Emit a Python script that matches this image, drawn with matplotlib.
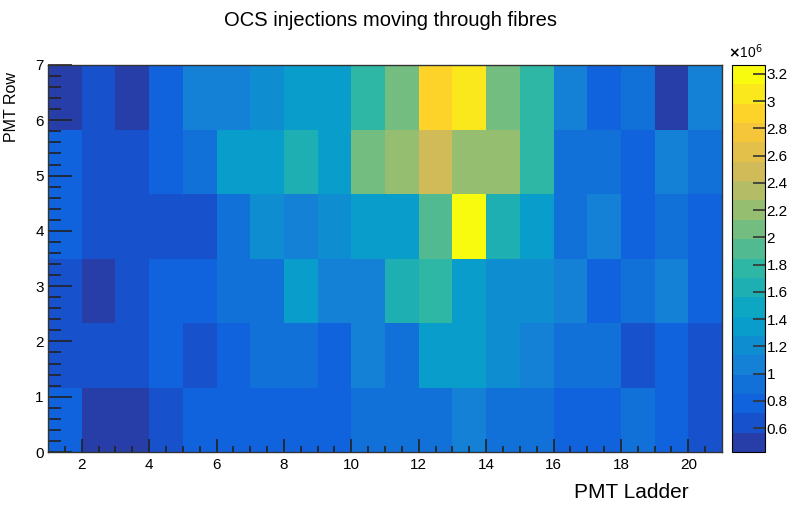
import matplotlib
matplotlib.use('Agg')
import matplotlib.pyplot as plt
import matplotlib.colors as mcolors
import numpy as np

plt.rcParams['font.family'] = ['Liberation Sans', 'DejaVu Sans']

# PMT ladders 1..20 (bin edges 1..21), 6 row bins spanning 0..7
LADDER_EDGES = np.arange(1, 22)
ROW_EDGES = np.linspace(0, 7, 7)

# injections (x1e6), one list per row bin, bottom row first
ROW1 = [0.80, 0.50, 0.50, 0.65, 0.80, 0.80, 0.80, 0.80, 0.80, 0.90,
        0.90, 0.90, 1.05, 0.90, 0.90, 0.80, 0.80, 0.95, 0.80, 0.65]
ROW2 = [0.65, 0.65, 0.65, 0.80, 0.65, 0.80, 0.90, 0.90, 0.80, 1.05,
        0.90, 1.30, 1.30, 1.20, 1.10, 0.95, 0.95, 0.65, 0.80, 0.65]
ROW3 = [0.65, 0.50, 0.65, 0.80, 0.80, 0.90, 0.90, 1.30, 1.05, 1.05,
        1.65, 1.75, 1.35, 1.25, 1.15, 1.05, 0.80, 0.90, 1.05, 0.80]
ROW4 = [0.80, 0.65, 0.65, 0.65, 0.65, 0.90, 1.20, 1.00, 1.15, 1.35,
        1.35, 1.90, 3.20, 1.60, 1.40, 0.90, 1.05, 0.80, 0.90, 0.80]
ROW5 = [0.80, 0.65, 0.65, 0.85, 0.95, 1.40, 1.40, 1.65, 1.40, 2.10,
        2.25, 2.50, 2.20, 2.20, 1.75, 0.90, 0.90, 0.80, 1.05, 0.90]
ROW6 = [0.50, 0.70, 0.50, 0.75, 1.00, 1.00, 1.20, 1.40, 1.40, 1.75,
        2.05, 2.90, 3.05, 2.05, 1.80, 1.05, 0.80, 0.95, 0.50, 1.05]

Z_MIN = 0.424e6
Z_MAX = 3.266e6
N_CONTOURS = 20
CBAR_TICKS = [0.6, 0.8, 1.0, 1.2, 1.4, 1.6, 1.8, 2.0, 2.2, 2.4, 2.6, 2.8, 3.0, 3.2]

# ROOT kBird palette, picked per contour the way THistPainter does
stops = [0.0, 0.125, 0.25, 0.375, 0.5, 0.625, 0.75, 0.875, 1.0]
red = [0.2082, 0.0592, 0.0780, 0.0232, 0.1802, 0.5301, 0.8186, 0.9956, 0.9764]
green = [0.1664, 0.3599, 0.5041, 0.6419, 0.7178, 0.7492, 0.7328, 0.7862, 0.9832]
blue = [0.5293, 0.8684, 0.8385, 0.7914, 0.6425, 0.4662, 0.3499, 0.1968, 0.0539]
bird = mcolors.LinearSegmentedColormap.from_list(
    'bird', list(zip(stops, zip(red, green, blue))), N=255)
idx = [int((i + 0.99) * 255 / N_CONTOURS) for i in range(N_CONTOURS)]
cmap = mcolors.ListedColormap([bird(min(k, 254)) for k in idx])
levels = np.linspace(Z_MIN, Z_MAX, N_CONTOURS + 1)
norm = mcolors.BoundaryNorm(levels, cmap.N)

z = np.array([ROW1, ROW2, ROW3, ROW4, ROW5, ROW6]) * 1e6

fig = plt.figure(figsize=(7.94, 5.05), dpi=100)
W, H = 794, 505
ax = fig.add_axes([48 / W, 1 - 452 / H, (722 - 48) / W, (452 - 65) / H])
mesh = ax.pcolormesh(LADDER_EDGES, ROW_EDGES, z, cmap=cmap, norm=norm)
ax.set_xlim(1, 21)
ax.set_ylim(0, 7)

ax.set_xticks(range(2, 21, 2))
ax.set_xticks(np.arange(1.5, 21, 0.5), minor=True)
ax.set_yticks(range(0, 8))
ax.set_yticks(np.arange(0, 7.01, 0.2), minor=True)
ax.tick_params(axis='both', which='both', direction='in', width=1.2,
               labelsize=11, color='#222222', top=False, right=False)
ax.tick_params(axis='x', which='major', length=9.5, pad=4)
ax.tick_params(axis='x', which='minor', length=4.5)
ax.tick_params(axis='y', which='major', length=17, pad=3)
ax.tick_params(axis='y', which='minor', length=9)
for s in ax.spines.values():
    s.set_linewidth(1.0)
    s.set_color('#333333')

fig.text(390 / W, 1 - 20 / H, 'OCS injections moving through fibres',
         ha='center', va='center', fontsize=14.5)
fig.text(689 / W, 1 - 493 / H, 'PMT Ladder', ha='right', va='center', fontsize=15)
fig.text(12 / W, 1 - 72 / H, 'PMT Row', ha='center', va='top',
         rotation=90, fontsize=11.5)

cax = fig.add_axes([732 / W, 1 - 452 / H, (765 - 732) / W, (452 - 65) / H])
cb = fig.colorbar(mesh, cax=cax, ticks=[t * 1e6 for t in CBAR_TICKS])
cb.ax.set_yticklabels([f'{t:g}' for t in CBAR_TICKS])
cb.ax.tick_params(direction='in', length=9, width=1.2, labelsize=11, pad=1,
                  color='#333333')
cb.ax.minorticks_off()
cb.outline.set_linewidth(0.8)
fig.text(745 / W, 1 - 52 / H, r'$\mathbf{\times}$10$^6$', ha='center', va='center',
         fontsize=10)

fig.savefig('out.png', dpi=100)
